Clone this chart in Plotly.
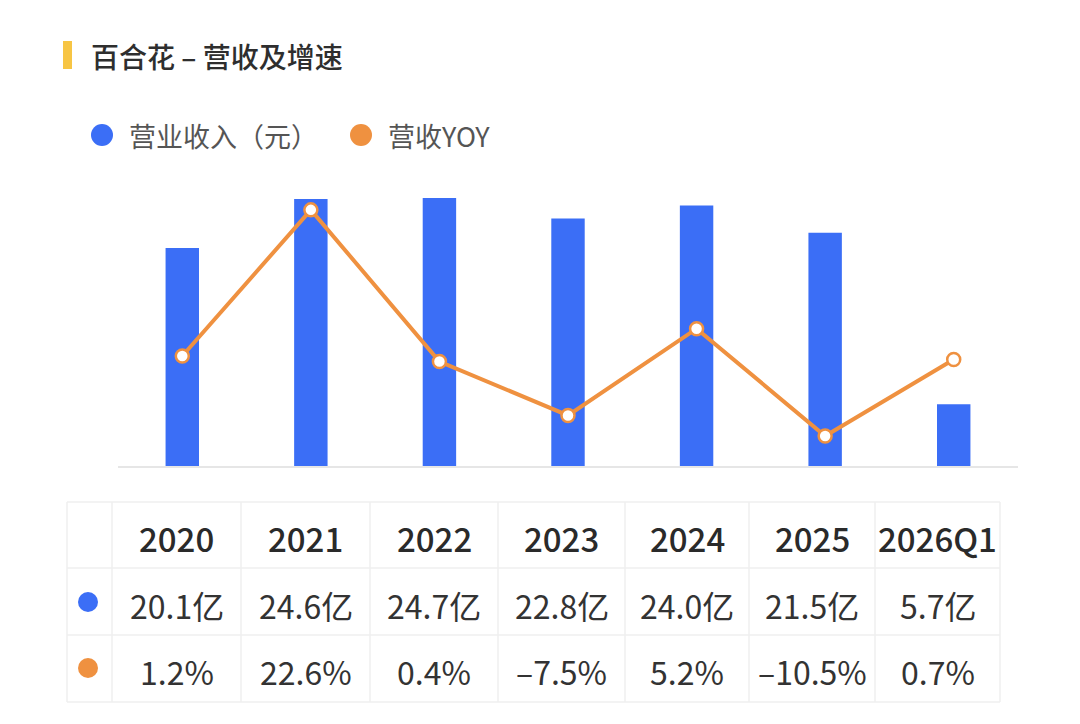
import plotly.graph_objects as go

# ---------------- data ----------------
categories = ["2020", "2021", "2022", "2023", "2024", "2025", "2026Q1"]
revenue = [20.1, 24.6, 24.7, 22.8, 24.0, 21.5, 5.7]      # 亿元
yoy = [1.2, 22.6, 0.4, -7.5, 5.2, -10.5, 0.7]             # %
title_text = "百合花 – 营收及增速"
legend_names = ["营业收入（元）", "营收YOY"]

# ---------------- style / layout ----------------
W, H = 1080, 724
OFF = 8                     # page body margin
ML, MR, MT, MB = 118 - OFF, 1080 - 1018 + OFF, 0, 0
PW, PH = W - ML - MR, H - MT - MB
BLUE = "#3B6EF6"
ORANGE = "#EF9140"
FONT = "Noto Sans CJK SC"
TXT = "#333333"

def px(x):
    return (x - OFF - ML) / PW

def py(y):
    return 1 - (y - OFF - MT) / PH

fig = go.Figure()

fig.add_trace(go.Bar(
    x=categories, y=revenue, name=legend_names[0],
    marker=dict(color=BLUE, line=dict(width=0)),
    width=0.26, showlegend=False, hoverinfo="x+y",
))
fig.add_trace(go.Scatter(
    x=categories, y=yoy, name=legend_names[1], yaxis="y2",
    mode="lines+markers",
    line=dict(color=ORANGE, width=4),
    marker=dict(size=13, color="white", line=dict(color=ORANGE, width=2.5)),
    showlegend=False,
))

plot_top, plot_bot = 160, 466
fig.update_layout(
    width=W, height=H,
    margin=dict(l=ML, r=MR, t=MT, b=MB),
    paper_bgcolor="white", plot_bgcolor="white",
    xaxis=dict(showticklabels=False, showgrid=False, zeroline=False,
               showline=False, ticks="", range=[-0.5, 6.5]),
    yaxis=dict(domain=[py(plot_bot), py(plot_top)], range=[0, 28.2],
               showticklabels=False, showgrid=False, zeroline=False, showline=False),
    yaxis2=dict(overlaying="y", range=[-14.9, 29.9], showticklabels=False,
                showgrid=False, zeroline=False, showline=False),
    font=dict(family=FONT, color=TXT),
    showlegend=False,
)

shapes = []
annotations = []

# baseline
shapes.append(dict(type="line", xref="paper", yref="paper",
                   x0=0, x1=1, y0=py(plot_bot + 1), y1=py(plot_bot + 1),
                   line=dict(color="#E6E6E6", width=2)))

# title with yellow bar
shapes.append(dict(type="rect", xref="paper", yref="paper",
                   x0=px(63), x1=px(72), y0=py(69), y1=py(41),
                   fillcolor="#F7C544", line=dict(width=0)))
annotations.append(dict(text=title_text, xref="paper", yref="paper",
                        x=px(89), y=py(56), xanchor="left", yanchor="middle",
                        showarrow=False,
                        font=dict(size=28, color="#2E2E2E", family=FONT, weight=500)))

# legend (custom)
legend_items = [(102, legend_names[0], BLUE), (361, legend_names[1], ORANGE)]
for cx, name, col in legend_items:
    r = 11
    shapes.append(dict(type="circle", xref="paper", yref="paper",
                       x0=px(cx - r), x1=px(cx + r), y0=py(135 + r), y1=py(135 - r),
                       fillcolor=col, line=dict(width=0)))
    annotations.append(dict(text=name, xref="paper", yref="paper",
                            x=px(cx + 25), y=py(135), xanchor="left", yanchor="middle",
                            showarrow=False, font=dict(size=27, color="#555555", family=FONT)))

# table
col_edges = [67, 112, 241, 370, 498, 625, 749, 875, 1000]
row_edges = [502, 568, 635, 702]
row_text_y = [538, 605, 671]
grid_col = "#EFEFEF"
for y in row_edges:
    shapes.append(dict(type="line", xref="paper", yref="paper",
                       x0=px(col_edges[0]), x1=px(col_edges[-1]), y0=py(y), y1=py(y),
                       line=dict(color=grid_col, width=1.5)))
for x in col_edges:
    shapes.append(dict(type="line", xref="paper", yref="paper",
                       x0=px(x), x1=px(x), y0=py(row_edges[0]), y1=py(row_edges[-1]),
                       line=dict(color=grid_col, width=1.5)))

# dots in first column
for ry, col in [(602, BLUE), (668, ORANGE)]:
    r = 10
    shapes.append(dict(type="circle", xref="paper", yref="paper",
                       x0=px(88 - r), x1=px(88 + r), y0=py(ry + r), y1=py(ry - r),
                       fillcolor=col, line=dict(width=0)))

def fmt_pct(v):
    s = f"{abs(v):.1f}%"
    return ("–" + s) if v < 0 else s

for i, cat in enumerate(categories):
    cx = (col_edges[i + 1] + col_edges[i + 2]) / 2
    annotations.append(dict(text=cat, xref="paper", yref="paper",
                            x=px(cx), y=py(row_text_y[0]), xanchor="center", yanchor="middle",
                            showarrow=False,
                            font=dict(size=33, color="#2A2A2A", family=FONT, weight=500)))
    annotations.append(dict(text=f"{revenue[i]:.1f}亿", xref="paper", yref="paper",
                            x=px(cx), y=py(row_text_y[1]), xanchor="center", yanchor="middle",
                            showarrow=False, font=dict(size=32, color=TXT, family=FONT)))
    annotations.append(dict(text=fmt_pct(yoy[i]), xref="paper", yref="paper",
                            x=px(cx), y=py(row_text_y[2]), xanchor="center", yanchor="middle",
                            showarrow=False, font=dict(size=32, color=TXT, family=FONT)))

fig.update_layout(shapes=shapes, annotations=annotations)
fig.write_html("out.html")
